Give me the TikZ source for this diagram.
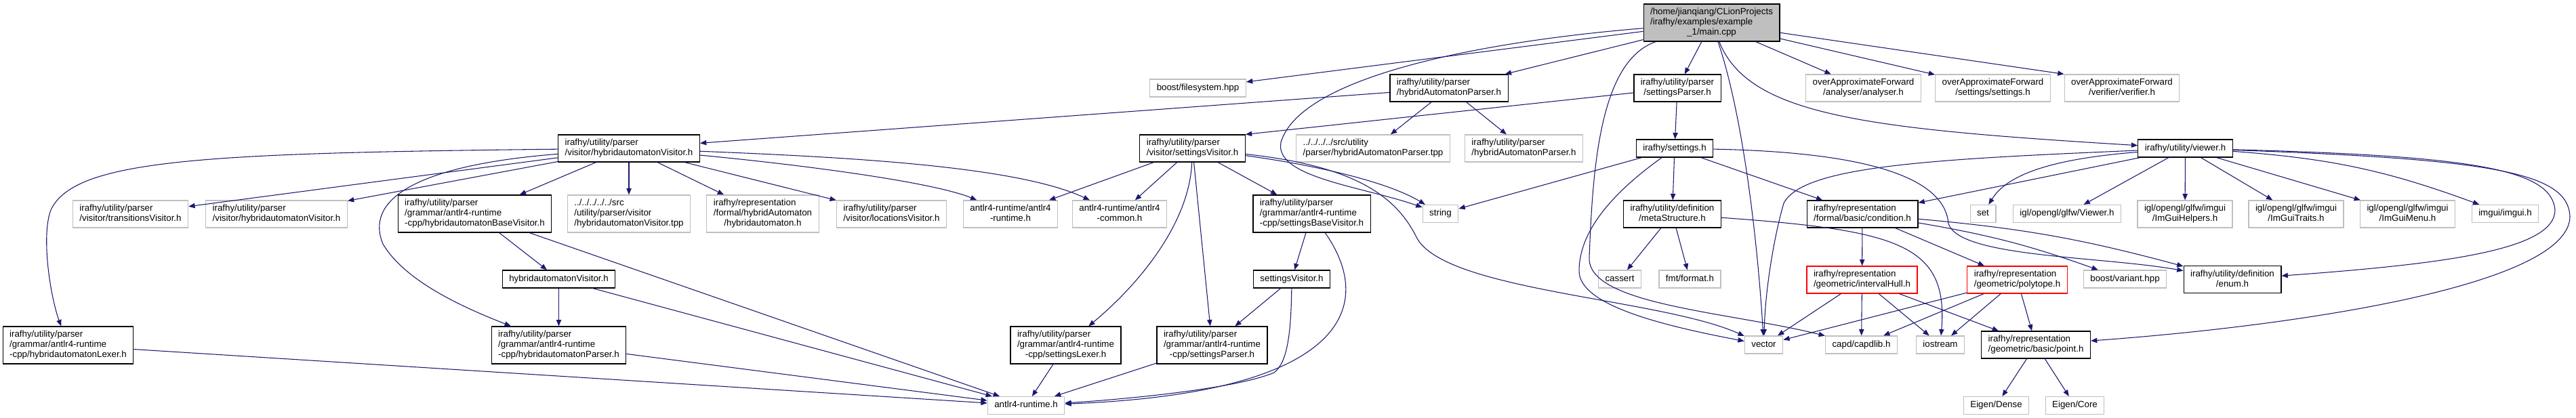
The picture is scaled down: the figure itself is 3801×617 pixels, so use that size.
\documentclass[tikz,border=0pt]{standalone}
\usepackage{fontspec}
\setmainfont{Liberation Sans}
\usepackage{tikz}
\usetikzlibrary{arrows.meta}
\definecolor{kante}{HTML}{191970}
\definecolor{extern}{HTML}{BFBFBF}
% Doxygen: obere Zeilen links, letzte Zeile zentriert
\newcommand{\filelabel}[2]{\begin{tabular}{@{}l@{}}#1\\\multicolumn{1}{@{}c@{}}{#2}\end{tabular}}

\begin{document}
\begin{tikzpicture}[
    x=0.75pt, y=-0.75pt,
    every node/.style={font=\fontsize{10}{11.25}\selectfont},
    extdatei/.style={draw=extern, fill=white, line width=0.9pt, inner xsep=7.5pt,
      inner ysep=3.75pt, minimum height=19.5pt, execute at begin node=\strut},
    docdatei/.style={extdatei, draw=black},
    rotdatei/.style={extdatei, draw=red},
    hauptdatei/.style={extdatei, draw=black, fill=extern},
    incl/.style={draw=kante, line width=0.8pt, -{Triangle[length=7pt, width=5.5pt]}},
  ]
  \useasboundingbox (0,0) rectangle (3801,617);

  % Zeile 0
  \node[hauptdatei] (main) at (2525.5,33.5) {\filelabel{/home/jianqiang/CLionProjects\\/irafhy/examples/example}{\_1/main.cpp}};

  % Zeile 1
  \node[extdatei] (boostfs) at (1767.5,130) {boost/filesystem.hpp};
  \node[docdatei] (haparser) at (2138,130) {\filelabel{irafhy/utility/parser}{/hybridAutomatonParser.h}};
  \node[docdatei] (setparser) at (2475,130) {\filelabel{irafhy/utility/parser}{/settingsParser.h}};
  \node[extdatei] (oafanalyser) at (2749.5,130) {\filelabel{overApproximateForward}{/analyser/analyser.h}};
  \node[extdatei] (oafsettings) at (2940.5,130) {\filelabel{overApproximateForward}{/settings/settings.h}};
  \node[extdatei] (oafverifier) at (3131,130) {\filelabel{overApproximateForward}{/verifier/verifier.h}};

  % Zeile 2
  \node[docdatei] (havisitor) at (928,219) {\filelabel{irafhy/utility/parser}{/visitor/hybridautomatonVisitor.h}};
  \node[docdatei] (setvisitor) at (1759.5,219) {\filelabel{irafhy/utility/parser}{/visitor/settingsVisitor.h}};
  \node[extdatei] (haparsertpp) at (2026,219) {\filelabel{../../../../src/utility}{/parser/hybridAutomatonParser.tpp}};
  \node[extdatei] (haparserext) at (2248.5,219) {\filelabel{irafhy/utility/parser}{/hybridAutomatonParser.h}};
  \node[docdatei] (settings) at (2471,219) {irafhy/settings.h};
  \node[docdatei] (viewer) at (3224.5,219) {irafhy/utility/viewer.h};

  % Zeile 3
  \node[extdatei] (transitions) at (192.5,316) {\filelabel{irafhy/utility/parser}{/visitor/transitionsVisitor.h}};
  \node[extdatei] (havisitorext) at (408,316) {\filelabel{irafhy/utility/parser}{/visitor/hybridautomatonVisitor.h}};
  \node[docdatei] (habase) at (700.5,315.5) {\filelabel{irafhy/utility/parser\\/grammar/antlr4-runtime}{-cpp/hybridautomatonBaseVisitor.h}};
  \node[extdatei] (havisitortpp) at (928,315.5) {\filelabel{../../../../../src\\/utility/parser/visitor}{/hybridautomatonVisitor.tpp}};
  \node[extdatei] (hybridautomaton) at (1125.5,315.5) {\filelabel{irafhy/representation\\/formal/hybridAutomaton}{/hybridautomaton.h}};
  \node[extdatei] (locations) at (1315.5,316) {\filelabel{irafhy/utility/parser}{/visitor/locationsVisitor.h}};
  \node[extdatei] (antlrruntime) at (1491,316) {\filelabel{antlr4-runtime/antlr4}{-runtime.h}};
  \node[extdatei] (antlrcommon) at (1652,316) {\filelabel{antlr4-runtime/antlr4}{-common.h}};
  \node[docdatei] (setbase) at (1935.5,315.5) {\filelabel{irafhy/utility/parser\\/grammar/antlr4-runtime}{-cpp/settingsBaseVisitor.h}};
  \node[extdatei] (string) at (2125.5,315.5) {string};
  \node[docdatei] (metastructure) at (2467.5,316) {\filelabel{irafhy/utility/definition}{/metaStructure.h}};
  \node[docdatei] (condition) at (2748,316) {\filelabel{irafhy/representation}{/formal/basic/condition.h}};
  \node[extdatei] (set) at (2926,315.5) {set};
  \node[extdatei] (viewerh) at (3050,315.5) {igl/opengl/glfw/Viewer.h};
  \node[extdatei] (helpers) at (3224,316) {\filelabel{igl/opengl/glfw/imgui}{/ImGuiHelpers.h}};
  \node[extdatei] (traits) at (3388,316) {\filelabel{igl/opengl/glfw/imgui}{/ImGuiTraits.h}};
  \node[extdatei] (menu) at (3552.5,316) {\filelabel{igl/opengl/glfw/imgui}{/ImGuiMenu.h}};
  \node[extdatei] (imgui) at (3696.5,315.5) {imgui/imgui.h};

  % Zeile 4
  \node[docdatei] (havisplain) at (824.5,412) {hybridautomatonVisitor.h};
  \node[docdatei] (setvisplain) at (1906,412) {settingsVisitor.h};
  \node[extdatei] (cassert) at (2390,412) {cassert};
  \node[extdatei] (fmt) at (2493.5,412) {fmt/format.h};
  \node[rotdatei] (intervalhull) at (2747.5,413) {\filelabel{irafhy/representation}{/geometric/intervalHull.h}};
  \node[rotdatei] (polytope) at (2976.5,413) {\filelabel{irafhy/representation}{/geometric/polytope.h}};
  \node[extdatei] (variant) at (3135.5,412) {boost/variant.hpp};
  \node[docdatei] (enum) at (3294,412.5) {\filelabel{irafhy/utility/definition}{/enum.h}};

  % Zeile 5
  \node[docdatei] (lexer) at (100.5,509.5) {\filelabel{irafhy/utility/parser\\/grammar/antlr4-runtime}{-cpp/hybridautomatonLexer.h}};
  \node[docdatei] (haparsergram) at (824.5,509.5) {\filelabel{irafhy/utility/parser\\/grammar/antlr4-runtime}{-cpp/hybridautomatonParser.h}};
  \node[docdatei] (setlexer) at (1572.5,509.5) {\filelabel{irafhy/utility/parser\\/grammar/antlr4-runtime}{-cpp/settingsLexer.h}};
  \node[docdatei] (setparsergram) at (1788.5,509.5) {\filelabel{irafhy/utility/parser\\/grammar/antlr4-runtime}{-cpp/settingsParser.h}};
  \node[extdatei] (vector) at (2602.5,509) {vector};
  \node[extdatei] (capdlib) at (2746.5,509) {capd/capdlib.h};
  \node[extdatei] (iostream) at (2863,509) {iostream};
  \node[docdatei] (point) at (3004,509) {\filelabel{irafhy/representation}{/geometric/basic/point.h}};

  % Zeile 6
  \node[extdatei] (antlrh) at (1514,598.5) {antlr4-runtime.h};
  \node[extdatei] (eigendense) at (2945.5,598.5) {Eigen/Dense};
  \node[extdatei] (eigencore) at (3061.5,598.5) {Eigen/Core};

  % main.cpp
  \draw[incl] (main) -- (boostfs);
  \draw[incl] (main) -- (haparser);
  \draw[incl] (main) -- (setparser);
  \draw[incl] (main) -- (oafanalyser);
  \draw[incl] (main) -- (oafsettings);
  \draw[incl] (main) -- (oafverifier.north west);
  \draw[incl] (main) .. controls (2580,170) and (2750,190) .. (viewer);
  \draw[incl] (main) .. controls (2200,60) and (1920,110) .. (1890,210)
    .. controls (1880,262) and (2010,275) .. (string);
  \draw[incl] (main) .. controls (2575,180) and (2595,380) .. (vector);
  \draw[incl] (main) .. controls (2360,90) and (2350,250) .. (2345,380)
    .. controls (2342,450) and (2550,460) .. (capdlib);

  % Parser
  \draw[incl] (haparser) -- (havisitor);
  \draw[incl] (haparser) -- (haparsertpp);
  \draw[incl] (haparser) -- (haparserext);
  \draw[incl] (setparser) -- (setvisitor.north east);
  \draw[incl] (setparser) -- (settings);

  % hybridautomatonVisitor
  \draw[incl] (havisitor) .. controls (300,226) and (110,235) .. (75,310)
    .. controls (60,350) and (75,440) .. (lexer);
  \draw[incl] (havisitor) -- (transitions);
  \draw[incl] (havisitor) -- (havisitorext);
  \draw[incl] (havisitor) .. controls (600,245) and (540,300) .. (565,360)
    .. controls (600,420) and (700,460) .. (haparsergram);
  \draw[incl] (havisitor) -- (habase);
  \draw[incl] (havisitor) -- (havisitortpp);
  \draw[incl] (havisitor) -- (hybridautomaton);
  \draw[incl] (havisitor) -- (locations);
  \draw[incl] (havisitor) .. controls (1200,245) and (1380,270) .. (antlrruntime);
  \draw[incl] (havisitor) .. controls (1250,232) and (1500,245) .. (antlrcommon);

  % settingsVisitor
  \draw[incl] (setvisitor) -- (antlrruntime);
  \draw[incl] (setvisitor) -- (antlrcommon);
  \draw[incl] (setvisitor) .. controls (1755,330) and (1680,420) .. (setlexer);
  \draw[incl] (setvisitor) -- (setparsergram);
  \draw[incl] (setvisitor) -- (setbase);
  \draw[incl] (setvisitor) .. controls (1950,245) and (2050,270) .. (string);
  \draw[incl] (setvisitor) .. controls (2000,245) and (2060,290) .. (2090,350)
    .. controls (2130,430) and (2450,440) .. (vector);

  % antlr4
  \draw[incl] (habase) -- (havisplain);
  \draw[incl] (habase) -- (antlrh);
  \draw[incl] (havisplain) -- (haparsergram);
  \draw[incl] (havisplain) -- (antlrh);
  \draw[incl] (haparsergram) -- (antlrh);
  \draw[incl] (lexer) -- (antlrh);
  \draw[incl] (setbase) -- (setvisplain);
  \draw[incl] (setbase) .. controls (2030,450) and (1990,580) .. (antlrh);
  \draw[incl] (setvisplain) -- (setparsergram);
  \draw[incl] (setvisplain) .. controls (1905,490) and (1900,535) .. (1880,550)
    .. controls (1820,575) and (1650,590) .. (antlrh);
  \draw[incl] (setlexer) -- (antlrh);
  \draw[incl] (setparsergram) -- (antlrh);

  % settings.h
  \draw[incl] (settings) -- (string);
  \draw[incl] (settings) -- (metastructure);
  \draw[incl] (settings) -- (condition);
  \draw[incl] (settings) .. controls (2780,225) and (2870,270) .. (2875,330)
    .. controls (2890,380) and (3100,378) .. (enum);
  \draw[incl] (settings) .. controls (2400,270) and (2330,330) .. (2330,400)
    .. controls (2330,450) and (2450,480) .. (vector);
  \draw[incl] (metastructure) -- (cassert);
  \draw[incl] (metastructure) -- (fmt);
  \draw[incl] (metastructure) .. controls (2800,340) and (2875,360) .. (iostream);

  % Geometrie
  \draw[incl] (condition) -- (intervalhull);
  \draw[incl] (condition) -- (polytope);
  \draw[incl] (condition) to[bend left=5] (variant);
  \draw[incl] (condition) to[bend left=5] (enum);
  \draw[incl] (intervalhull) -- (vector);
  \draw[incl] (intervalhull) -- (capdlib);
  \draw[incl] (intervalhull) -- (iostream);
  \draw[incl] (intervalhull) -- (point);
  \draw[incl] (polytope) -- (vector);
  \draw[incl] (polytope) -- (capdlib);
  \draw[incl] (polytope) -- (iostream);
  \draw[incl] (polytope) -- (point);
  \draw[incl] (point) -- (eigendense);
  \draw[incl] (point) -- (eigencore);

  % viewer.h
  \draw[incl] (viewer) .. controls (2850,235) and (2660,245) .. (2632,300)
    .. controls (2620,340) and (2605,420) .. (vector);
  \draw[incl] (viewer) -- (condition);
  \draw[incl] (viewer) .. controls (3020,235) and (2960,260) .. (set);
  \draw[incl] (viewer) -- (viewerh);
  \draw[incl] (viewer) -- (helpers);
  \draw[incl] (viewer) -- (traits);
  \draw[incl] (viewer) -- (menu);
  \draw[incl] (viewer) to[bend left=8] (imgui);
  \draw[incl] (viewer) .. controls (3650,230) and (3765,250) .. (3770,310)
    .. controls (3770,370) and (3600,390) .. (enum);
  \draw[incl] (viewer) .. controls (3680,235) and (3790,255) .. (3792,320)
    .. controls (3790,420) and (3400,480) .. (point);
\end{tikzpicture}
\end{document}
